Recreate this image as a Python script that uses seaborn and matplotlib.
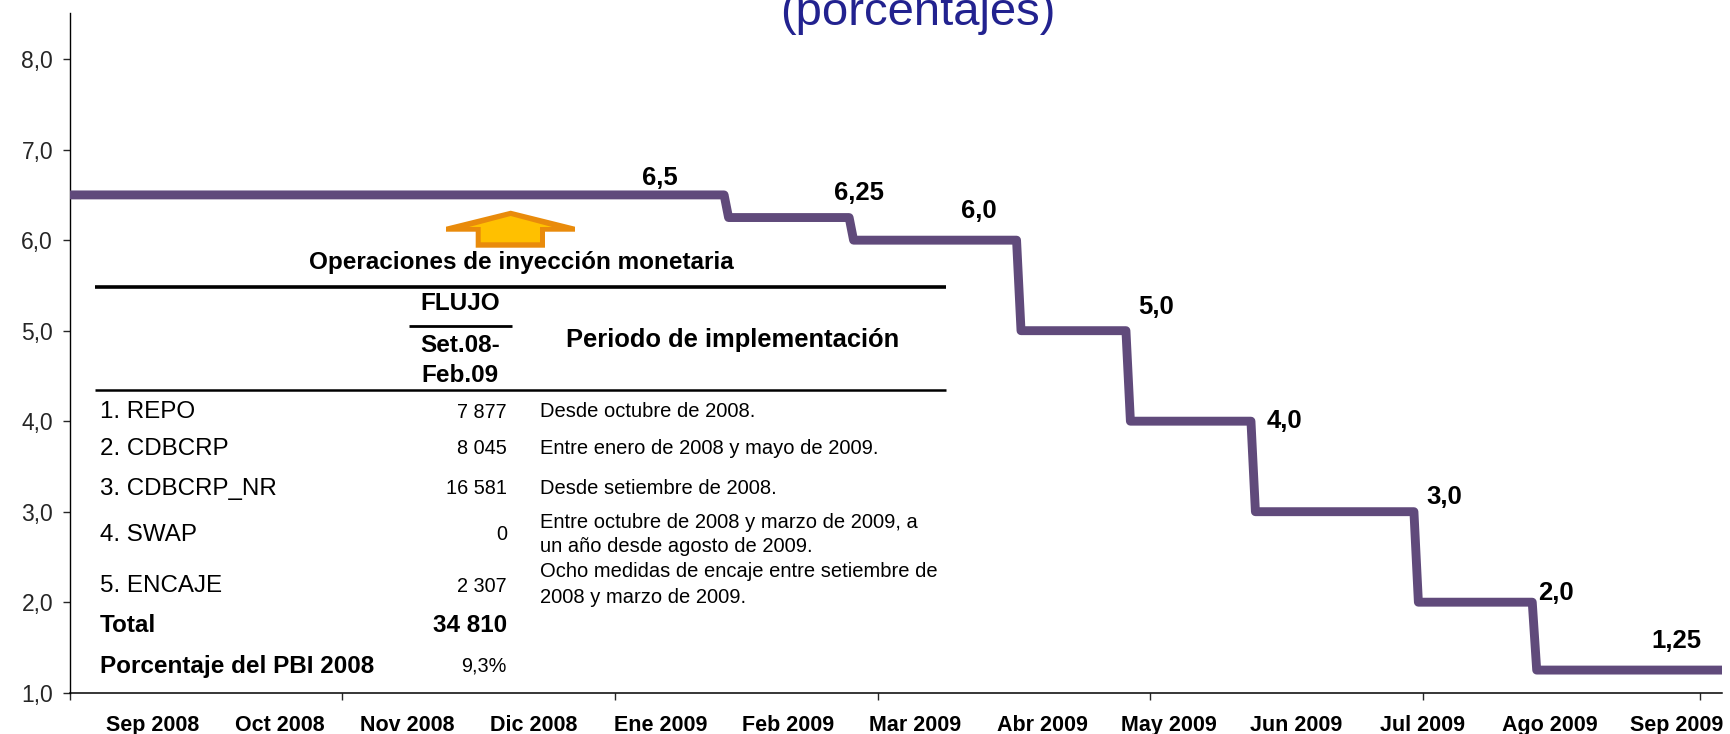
import pandas as pd
import seaborn as sns
import matplotlib.pyplot as plt
import matplotlib.dates as mdates
from matplotlib.lines import Line2D
from matplotlib.patches import Polygon

# Tasa de referencia (cada escalon tiene dos puntos, por eso el trazo inclinado)
fechas = ['2008-09-01', '2009-01-25 12:00', '2009-01-26 12:00', '2009-02-22 12:00', '2009-02-23 12:00',
          '2009-04-01', '2009-04-02', '2009-04-25 12:00', '2009-04-26 12:00', '2009-05-23 12:00',
          '2009-05-24 12:00', '2009-06-29', '2009-06-30', '2009-07-25 12:00', '2009-07-26 12:00', '2009-09-06']
tasas = [6.5, 6.5, 6.25, 6.25, 6.0, 6.0, 5.0, 5.0, 4.0, 4.0, 3.0, 3.0, 2.0, 2.0, 1.25, 1.25]

etiquetas_tasa = ['6,5', '6,25', '6,0', '5,0', '4,0', '3,0', '2,0', '1,25']
meses = ['Sep 2008', 'Oct 2008', 'Nov 2008', 'Dic 2008', 'Ene 2009', 'Feb 2009', 'Mar 2009',
         'Abr 2009', 'May 2009', 'Jun 2009', 'Jul 2009', 'Ago 2009', 'Sep 2009']
ticks_y = [1, 2, 3, 4, 5, 6, 7, 8]
ticks_x = ['2008-09-01', '2008-11-01', '2009-01-01', '2009-03-01', '2009-05-01', '2009-07-01', '2009-09-01']

# Tabla de operaciones
operaciones = ['1. REPO', '2. CDBCRP', '3. CDBCRP_NR', '4. SWAP', '5. ENCAJE']
flujos = ['7 877', '8 045', '16 581', '0', '2 307']
total = '34 810'
porcentaje = '9,3%'
periodos = ['Desde octubre de 2008.', 'Entre enero de 2008 y mayo de 2009.', 'Desde setiembre de 2008.',
            'Entre octubre de 2008 y marzo de 2009, a', 'un año desde agosto de 2009.',
            'Ocho medidas de encaje entre setiembre de', '2008 y marzo de 2009.']

sns.set_style('white')
plt.rcParams['font.family'] = ['Liberation Sans', 'DejaVu Sans']

W, H = 1731, 734
fig = plt.figure(figsize=(W / 100, H / 100), dpi=100)
ax = fig.add_axes([70 / W, 1 - 692.7 / H, (1722 - 70) / W, (692.7 - 13) / H])

df = pd.DataFrame({'fecha': pd.to_datetime(fechas, format='mixed'), 'tasa': tasas})
sns.lineplot(data=df, x='fecha', y='tasa', ax=ax, color='#604A7B', linewidth=6.4, estimator=None,
             solid_joinstyle='round', solid_capstyle='butt', clip_on=False, zorder=3)

ax.set_xlim(pd.Timestamp('2008-09-01'), pd.Timestamp('2009-09-06'))
ax.set_ylim(1, 8.51)
ax.set_xlabel('')
ax.set_ylabel('')
ax.set_yticks(ticks_y)
ax.set_yticklabels([f'{v},0' for v in ticks_y], fontsize=16.5, color='#262626')
ax.set_xticks(mdates.date2num(pd.to_datetime(ticks_x)))
ax.set_xticklabels([])
ax.tick_params(axis='y', length=5.2, width=1, pad=7, left=True)
ax.tick_params(axis='x', length=5, width=1, direction='out', bottom=True)
sns.despine(ax=ax)
ax.spines['left'].set_linewidth(1)
ax.spines['left'].set_color('black')
ax.spines['bottom'].set_linewidth(1.1)
ax.spines['bottom'].set_color('black')


def txt(x, y, s, size, weight='normal', ha='left', color='black', va='center'):
    # x, y en pixeles de la imagen
    fig.text(x / W, 1 - y / H, s, fontsize=size, fontweight=weight, ha=ha, va=va, color=color)


def linea(x0, x1, y, lw):
    fig.add_artist(Line2D([x0 / W, x1 / W], [1 - y / H, 1 - y / H], color='black', lw=lw, solid_capstyle='butt'))


def poligono(puntos, color):
    fig.add_artist(Polygon([(x / W, 1 - y / H) for x, y in puntos], closed=True, transform=fig.transFigure,
                           facecolor=color, edgecolor='none'))


fig.text(918 / W, 1 - 25 / H, '(porcentajes)', fontsize=34, color='#22228F', ha='center', va='baseline')

# Etiquetas de la tasa
pos_tasa = [(660, 178), (859, 193), (979, 211), (1156, 307), (1284, 421), (1444, 497), (1556, 593), (1676, 641)]
for s, (x, y) in zip(etiquetas_tasa, pos_tasa):
    txt(x, y, s, 18.5, 'bold', 'center')

# Meses del eje x (van en una caja aparte, no coinciden con los ticks)
for i, m in enumerate(meses):
    txt(153 + i * 127, 723, m, 15.5, 'bold', 'center', va='center_baseline')

# Flecha
poligono([(510.7, 210.7), (575, 226.7), (575, 231.7), (545, 231.7), (545, 247.7), (475.7, 247.7), (475.7, 231.7),
          (446, 231.7), (446, 226.7)], '#E98B0B')
poligono([(510.7, 216), (552, 227), (540, 227), (540, 242.3), (480.7, 242.3), (480.7, 227), (469, 227)], '#FFC000')

# Tabla
txt(521, 263, 'Operaciones de inyección monetaria', 17.5, 'bold', 'center')
linea(95, 946, 287, 2.6)
txt(460, 304, 'FLUJO', 17.5, 'bold', 'center')
linea(409, 512, 326, 2)
txt(460, 345, 'Set.08-', 17.5, 'bold', 'center')
txt(460, 375, 'Feb.09', 17.5, 'bold', 'center')
txt(733, 340, 'Periodo de implementación', 18.4, 'bold', 'center')
linea(95, 946, 390, 1.8)

y_filas = [412, 449, 489, 535, 586]
for s, v, y in zip(operaciones, flujos, y_filas):
    txt(100, y, s, 17.4)
    txt(507, y, v, 14.3, ha='right')

txt(100, 625, 'Total', 17.5, 'bold')
txt(507, 625, total, 17.5, 'bold', 'right')
txt(100, 666, 'Porcentaje del PBI 2008', 17.5, 'bold')
txt(507, 666, porcentaje, 14.3, ha='right')

y_periodos = [416.7, 454.3, 494, 528.3, 552.3, 577.3, 602.7]
for s, y in zip(periodos, y_periodos):
    txt(540, y, s, 14.5, va='baseline')

fig.savefig('out.png', dpi=100)
